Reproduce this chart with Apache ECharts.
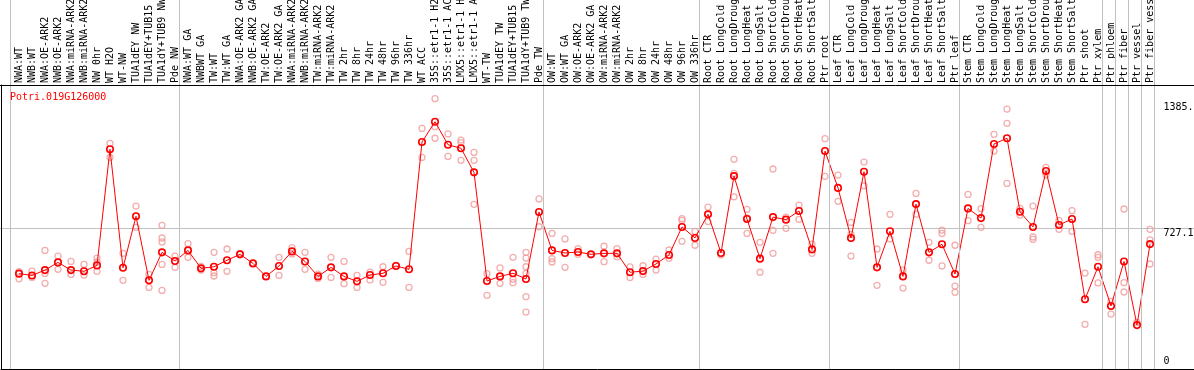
<!DOCTYPE html>
<html><head><meta charset="utf-8">
<script src="https://cdn.jsdelivr.net/npm/echarts@6/dist/echarts.min.js"></script>
<style>html,body{margin:0;padding:0;background:#fff}#c{width:1194px;height:370px}</style>
</head><body><div id="c"></div>
<script>
const chartTitle = 'Potri.019G126000';
const categories = [
 'NWA:WT','NWB:WT','NWA:OE-ARK2','NWB:OE-ARK2','NWA:miRNA-ARK2','NWB:miRNA-ARK2','NW 0hr','WT H2O','WT-NW','TUA1dEY NW','TUA1dEY+TUB15 NW','TUA1dY+TUB9 NW','Pde NW',
 'NWA:WT GA','NWBWT GA','TW:WT','TW:WT GA','NWA:OE-ARK2 GA','NWB:OE-ARK2 GA','TW:OE-ARK2','TW:OE-ARK2 GA','NWA:miRNA-ARK2 GA','NWB:miRNA-ARK2 GA','TW:miRNA-ARK2','TW:miRNA-ARK2 GA','TW 2hr','TW 8hr','TW 24hr','TW 48hr','TW 96hr','TW 336hr','WT ACC','35S::etr1-1 H2O','35S::etr1-1 ACC','LMX5::etr1-1 H2O','LMX5::etr1-1 ACC','WT-TW','TUA1dEY TW','TUA1dEY+TUB15 TW','TUA1dY+TUB9 TW','Pde TW',
 'OW:WT','OW:WT GA','OW:OE-ARK2','OW:OE-ARK2 GA','OW:miRNA-ARK2','OW:miRNA-ARK2 GA','OW 2hr','OW 8hr','OW 24hr','OW 48hr','OW 96hr','OW 336hr',
 'Root CTR','Root LongCold','Root LongDrought','Root LongHeat','Root LongSalt','Root ShortCold','Root ShortDrought','Root ShortHeat','Root ShortSalt','Ptr root',
 'Leaf CTR','Leaf LongCold','Leaf LongDrought','Leaf LongHeat','Leaf LongSalt','Leaf ShortCold','Leaf ShortDrought','Leaf ShortHeat','Leaf ShortSalt','Ptr leaf',
 'Stem CTR','Stem LongCold','Stem LongDrought','Stem LongHeat','Stem LongSalt','Stem ShortCold','Stem ShortDrought','Stem ShortHeat','Stem ShortSalt','Ptr shoot','Ptr xylem',
 'Ptr phloem','Ptr fiber','Ptr vessel','Ptr fiber vessel'
];
// number of categories in each separated group
const groupSizes = [13, 28, 12, 10, 10, 11, 1, 1, 1, 1];
const means = [
 497,488,515,554,515,509,539,1128,527,788,463,605,561,
 615,524,532,565,595,549,483,536,610,559,483,529,483,458,490,499,536,519,1165,1268,1151,1133,1011,460,483,499,470,810,
 615,602,607,595,600,600,504,510,546,592,734,678,
 798,602,992,774,573,784,771,815,620,1119,
 932,678,1014,529,712,483,850,605,646,495,
 828,779,1155,1184,811,734,1018,744,774,367,532,
 333,559,236,647
];
const replicates = [
 [507,471],[510,478],[615,498,448],[586,519],[559,493],[544,490],[576,556,509],[1158,1087],[600,463],[840,732],[493,427],[742,678,658,544,412],[586,529],
 [649,580],[534,515],[605,502,485],[622,509],[600],[549],[483],[580,488],[629,597],[605,519],[495,473],[580,478],[559,446],[488,427],[505,465],[532,453],[539],[610,427],[1234,1087],[1385.0,1243,1184],[1206,1092],[1175,1162,1072],[1112,1072,849],[497,387],[526,448],[580,468,451],[605,576,532,498,380,302],[876,735],
 [701,573,556],[673,529],[624,595],[595],[636,558],[624,583],[531,477],[537,493],[571,515],[617,575],[776,767,661],[712,641],
 [835,761],[592],[1077,1006,887],[823,780,701],[656,504],[1028,717,600],[784,727],[845,772],[647,600],[1182,991],
 [997,864],[757,696,586],[1063,943],[622,438],[798,673],[515,424],[904,799],[656,565],[718,701,536],[641,434,402],
 [899,766],[827,732],[1204,1119],[1332,1260,955],[828,794],[840,683,671],[1036,998],[767,722],[817,712],[500,240],[593,580,450],
 [356,292],[825,451,404],[250],[722,668,546]
];

const FONT = 'DejaVu Sans Mono';
const allVals = means.concat(replicates.flat());
const dataMax = Math.max.apply(null, allVals);
const yMax = dataMax * 1.05;
const yMid = yMax / 2;
const nCat = categories.length;

// group boundaries in category-index units
const boundaries = [-0.5];
groupSizes.reduce((acc, s) => { acc += s; boundaries.push(acc - 0.5); return acc; }, 0);

const repData = [];
replicates.forEach((arr, i) => arr.forEach(v => repData.push([i, v])));

const PLOT_TOP = 85, PLOT_H = 286.6;
const G = {outerBoundsMode: 'none', containLabel: false};
const hidden = {axisLine:{show:false}, axisTick:{show:false}, axisLabel:{show:false}, splitLine:{show:false}};
const fmt = v => (v === 0 ? '0' : v.toFixed(1));
const labelAxis = (vals, extra) => ({
  gridIndex: 3, type: 'value', min: 0, max: yMax, position: 'right',
  axisLine:{show:false}, axisTick:{show:false}, splitLine:{show:false},
  axisLabel: Object.assign({customValues: vals, formatter: fmt, fontFamily: FONT, fontSize: 10, color: '#000', align: 'left', margin: 7}, extra)
});

const chart = echarts.init(document.getElementById('c'), null, {renderer: 'canvas'});
chart.setOption({
  animation: false,
  backgroundColor: '#fff',
  title: {text: chartTitle, left: 10, top: 92, padding: 0,
    textStyle: {color: '#ff0000', fontFamily: FONT, fontSize: 10, fontWeight: 'normal'}},
  grid: [
    Object.assign({left: 0, right: 0, top: PLOT_TOP, height: PLOT_H}, G),
    Object.assign({left: 1, right: 0, top: PLOT_TOP, bottom: 1}, G),
    Object.assign({left: 10.5, right: 39.5, top: 0, bottom: 1}, G),
    Object.assign({left: 12.5, right: 37.5, top: PLOT_TOP, height: PLOT_H}, G)
  ],
  xAxis: [
    Object.assign({gridIndex: 0, type: 'value', min: 0, max: 1, position: 'top', z: 5}, hidden,
      {axisLine: {show: true, onZero: false, lineStyle: {color: '#000', width: 1}}}),
    Object.assign({gridIndex: 1, type: 'value', min: 0, max: 1, position: 'bottom', z: 5}, hidden,
      {axisLine: {show: true, onZero: false, lineStyle: {color: '#000', width: 1}}}),
    Object.assign({gridIndex: 2, type: 'value', min: -0.5, max: nCat - 0.5}, hidden),
    {gridIndex: 3, type: 'category', data: categories, position: 'top', boundaryGap: true,
      axisLine: {show: false}, axisTick: {show: false}, splitLine: {show: false},
      axisLabel: {rotate: 90, interval: 0, margin: 2, fontFamily: FONT, fontSize: 10, color: '#000', hideOverlap: false}}
  ],
  yAxis: [
    Object.assign({gridIndex: 0, type: 'value', min: 0, max: yMax, interval: yMid}, hidden,
      {splitLine: {show: true, lineStyle: {color: '#c0c0c0', width: 1}}}),
    Object.assign({gridIndex: 1, type: 'value', min: 0, max: 1, position: 'left', z: 5}, hidden,
      {axisLine: {show: true, onZero: false, lineStyle: {color: '#000', width: 1}}}),
    Object.assign({gridIndex: 2, type: 'value', min: 0, max: 1}, hidden),
    Object.assign({gridIndex: 3, type: 'value', min: 0, max: yMax, position: 'right'}, hidden),
    labelAxis([dataMax], {verticalAlign: 'top', padding: [4, 0, 0, 0]}),
    labelAxis([yMid], {verticalAlign: 'top'}),
    labelAxis([0], {verticalAlign: 'bottom', padding: [0, 0, 5, 0]})
  ],
  series: [
    {type: 'line', xAxisIndex: 2, yAxisIndex: 2, data: [], silent: true,
      markLine: {silent: true, symbol: 'none', animation: false, label: {show: false},
        lineStyle: {color: '#c0c0c0', type: 'solid', width: 1},
        data: boundaries.map(b => ({xAxis: b}))}},
    {type: 'scatter', xAxisIndex: 3, yAxisIndex: 3, data: repData, symbol: 'circle', symbolSize: 6,
      itemStyle: {color: 'rgba(0,0,0,0)', borderColor: '#f09a9a', borderWidth: 1.3}, z: 3},
    {type: 'line', xAxisIndex: 3, yAxisIndex: 3, data: means, symbol: 'circle', symbolSize: 6.5, showSymbol: true,
      lineStyle: {color: '#ff0000', width: 1},
      itemStyle: {color: 'rgba(0,0,0,0)', borderColor: '#ff0000', borderWidth: 1.6}, z: 4}
  ]
});
</script></body></html>
